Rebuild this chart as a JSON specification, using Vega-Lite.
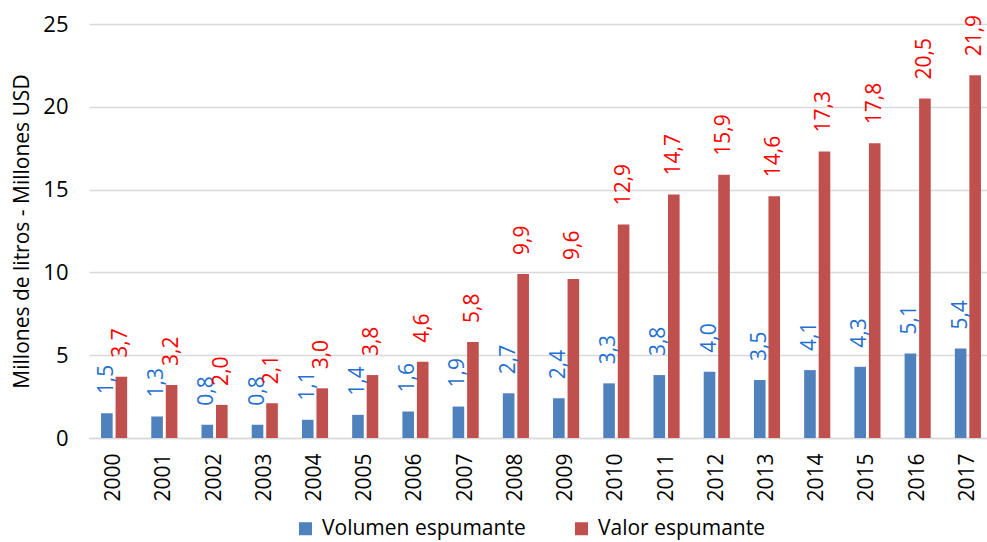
{
  "$schema": "https://vega.github.io/schema/vega-lite/v6.json",
  "width": 904,
  "height": 414,
  "autosize": {"type": "none"},
  "padding": {"left": 89, "top": 24, "right": -6, "bottom": 104},
  "background": "white",
  "config": {
    "view": {"stroke": null},
    "font": "Open Sans",
    "locale": {"number": {"decimal": ",", "thousands": ".", "grouping": [3], "currency": ["", ""]}}
  },
  "data": {
    "values": [
      {"year": "2000", "serie": "Volumen espumante", "v": 1.5},
      {"year": "2001", "serie": "Volumen espumante", "v": 1.3},
      {"year": "2002", "serie": "Volumen espumante", "v": 0.8},
      {"year": "2003", "serie": "Volumen espumante", "v": 0.8},
      {"year": "2004", "serie": "Volumen espumante", "v": 1.1},
      {"year": "2005", "serie": "Volumen espumante", "v": 1.4},
      {"year": "2006", "serie": "Volumen espumante", "v": 1.6},
      {"year": "2007", "serie": "Volumen espumante", "v": 1.9},
      {"year": "2008", "serie": "Volumen espumante", "v": 2.7},
      {"year": "2009", "serie": "Volumen espumante", "v": 2.4},
      {"year": "2010", "serie": "Volumen espumante", "v": 3.3},
      {"year": "2011", "serie": "Volumen espumante", "v": 3.8},
      {"year": "2012", "serie": "Volumen espumante", "v": 4.0},
      {"year": "2013", "serie": "Volumen espumante", "v": 3.5},
      {"year": "2014", "serie": "Volumen espumante", "v": 4.1},
      {"year": "2015", "serie": "Volumen espumante", "v": 4.3},
      {"year": "2016", "serie": "Volumen espumante", "v": 5.1},
      {"year": "2017", "serie": "Volumen espumante", "v": 5.4},
      {"year": "2000", "serie": "Valor espumante", "v": 3.7},
      {"year": "2001", "serie": "Valor espumante", "v": 3.2},
      {"year": "2002", "serie": "Valor espumante", "v": 2.0},
      {"year": "2003", "serie": "Valor espumante", "v": 2.1},
      {"year": "2004", "serie": "Valor espumante", "v": 3.0},
      {"year": "2005", "serie": "Valor espumante", "v": 3.8},
      {"year": "2006", "serie": "Valor espumante", "v": 4.6},
      {"year": "2007", "serie": "Valor espumante", "v": 5.8},
      {"year": "2008", "serie": "Valor espumante", "v": 9.9},
      {"year": "2009", "serie": "Valor espumante", "v": 9.6},
      {"year": "2010", "serie": "Valor espumante", "v": 12.9},
      {"year": "2011", "serie": "Valor espumante", "v": 14.7},
      {"year": "2012", "serie": "Valor espumante", "v": 15.9},
      {"year": "2013", "serie": "Valor espumante", "v": 14.6},
      {"year": "2014", "serie": "Valor espumante", "v": 17.3},
      {"year": "2015", "serie": "Valor espumante", "v": 17.8},
      {"year": "2016", "serie": "Valor espumante", "v": 20.5},
      {"year": "2017", "serie": "Valor espumante", "v": 21.9}
    ]
  },
  "encoding": {
    "x": {
      "field": "year", "type": "nominal",
      "scale": {"paddingInner": 0.48, "paddingOuter": 0.24},
      "axis": {
        "title": null, "labelAngle": -90, "labelFontSize": 21, "labelColor": "#000000",
        "labelPadding": 15, "ticks": false, "domainColor": "#D9D9D9", "domainWidth": 1.5
      }
    },
    "xOffset": {
      "field": "serie", "type": "nominal",
      "sort": ["Volumen espumante", "Valor espumante"],
      "scale": {"paddingInner": 0.2, "paddingOuter": 0}
    },
    "y": {
      "field": "v", "type": "quantitative",
      "scale": {"domain": [0, 25], "nice": false},
      "axis": {
        "title": "Millones de litros - Millones USD", "titleFontSize": 21, "titleFontWeight": "normal",
        "titleColor": "#000000", "titlePadding": 10,
        "values": [0, 5, 10, 15, 20, 25], "format": "d",
        "labelFontSize": 22, "labelColor": "#000000", "labelPadding": 21,
        "ticks": false, "domain": false, "gridColor": "#D9D9D9", "gridWidth": 1.5
      }
    }
  },
  "layer": [
    {
      "mark": {"type": "bar"},
      "encoding": {
        "color": {
          "field": "serie", "type": "nominal",
          "sort": ["Volumen espumante", "Valor espumante"],
          "scale": {"domain": ["Volumen espumante", "Valor espumante"], "range": ["#4F81BD", "#C0504D"]},
          "legend": {
            "title": null, "orient": "none", "direction": "horizontal",
            "legendX": 206, "legendY": 494,
            "symbolType": "square", "symbolSize": 169, "symbolStrokeWidth": 0,
            "symbolOpacity": 1, "labelLimit": 500,
            "labelFontSize": 21, "labelColor": "#000000", "labelOffset": 6,
            "columnPadding": 45
          }
        }
      }
    },
    {
      "mark": {"type": "text", "angle": -90, "align": "left", "baseline": "middle", "dx": 19, "fontSize": 21},
      "encoding": {
        "text": {"field": "v", "type": "quantitative", "format": ".1f"},
        "color": {
          "condition": {"test": "datum.serie === 'Volumen espumante'", "value": "#1F70D0"},
          "value": "#FF0000"
        }
      }
    }
  ]
}
